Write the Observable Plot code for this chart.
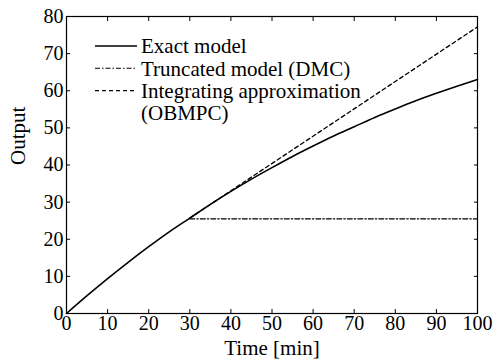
<!DOCTYPE html>
<html><head><meta charset="utf-8">
<script src="https://cdn.jsdelivr.net/npm/d3@7"></script>
<script src="https://cdn.jsdelivr.net/npm/@observablehq/plot@0.6"></script>
<style>body{margin:0;background:#fff} svg{display:block} svg text{font-family:'Liberation Serif','Times New Roman',serif !important}</style>
</head><body><div id="chart"></div>
<script>
const time = [0,5,10,15,20,25,30,35,40,45,50,55,60,65,70,75,80,85,90,95,100];
const exactOutput = [0,4.8,9.4,13.8,18.0,22.0,25.7,29.4,32.9,36.2,39.3,42.3,45.1,47.8,50.3,52.8,55.1,57.3,59.3,61.2,63.0];
const truncTime = [30,100];
const truncOutput = [25.5,25.5];
const integTime = [30,100];
const integOutput = [25.7,77.2];
const xTicks = [0,10,20,30,40,50,60,70,80,90,100];
const yTicks = [0,10,20,30,40,50,60,70,80];
const legendLabels = ["Exact model","Truncated model (DMC)","Integrating approximation","(OBMPC)"];
const legendDash = ["none","5,2,1.5,2","4,3",null];

const exact = time.map((t,i)=>({t, y: exactOutput[i]}));
const trunc = truncTime.map((t,i)=>({t, y: truncOutput[i]}));
const integ = integTime.map((t,i)=>({t, y: integOutput[i]}));

const font = "Liberation Serif";

function legendMark(index, scales, values, dims) {
  const g = d3.create("svg:g").attr("font-family", font).attr("font-size", 21)
    .attr("fill", "black").attr("text-anchor", "start");
  const x0 = dims.marginLeft + 29, x1 = dims.marginLeft + 71, xt = dims.marginLeft + 75;
  legendLabels.forEach((lbl, i) => {
    const y = dims.marginTop + 30 + i * 22.3;
    if (legendDash[i] !== null) {
      g.append("line").attr("x1", x0).attr("x2", x1).attr("y1", y).attr("y2", y)
        .attr("stroke", "black").attr("stroke-width", legendDash[i] === "none" ? 1.4 : 1.1)
        .attr("stroke-dasharray", legendDash[i] === "none" ? null : legendDash[i]);
    }
    g.append("text").attr("x", xt).attr("y", y).attr("dy", "0.35em").attr("text-anchor", "start").text(lbl);
  });
  return g.node();
}

const chart = Plot.plot({
  width: 496, height: 362,
  marginLeft: 66, marginRight: 19, marginTop: 16, marginBottom: 49,
  style: {fontFamily: font, fontSize: "20px", color: "black", background: "white"},
  x: {domain: [0,100]},
  y: {domain: [0,80]},
  marks: [
    Plot.frame({stroke: "black", strokeWidth: 1.2}),
    Plot.axisX(xTicks, {anchor: "bottom", tickSize: 0, tickPadding: 2, label: null, fontSize: 20, fontFamily: font}),
    Plot.axisX(xTicks, {anchor: "bottom", tickSize: -4, text: null, label: null}),
    Plot.axisX(xTicks, {anchor: "top", tickSize: -4, text: null, label: null}),
    Plot.axisY(yTicks, {anchor: "left", tickSize: 0, tickPadding: 3, label: null, fontSize: 20, fontFamily: font}),
    Plot.axisY(yTicks, {anchor: "left", tickSize: -4, text: null, label: null}),
    Plot.axisY(yTicks, {anchor: "right", tickSize: -4, text: null, label: null}),
    Plot.line(trunc, {x: "t", y: "y", stroke: "black", strokeWidth: 1.1, strokeDasharray: "5,2,1.5,2"}),
    Plot.line(integ, {x: "t", y: "y", stroke: "black", strokeWidth: 1.3, strokeDasharray: "4,3"}),
    Plot.line(exact, {x: "t", y: "y", stroke: "black", strokeWidth: 1.6, curve: "monotone-x"}),
    Plot.text(["Time [min]"], {frameAnchor: "bottom", dy: 41, text: d => d, fontSize: 21, fontFamily: font}),
    Plot.text(["Output"], {frameAnchor: "left", rotate: -90, dx: -48, text: d => d, fontSize: 21, fontFamily: font}),
    legendMark
  ]
});
document.getElementById("chart").append(chart);
</script>
</body></html>
